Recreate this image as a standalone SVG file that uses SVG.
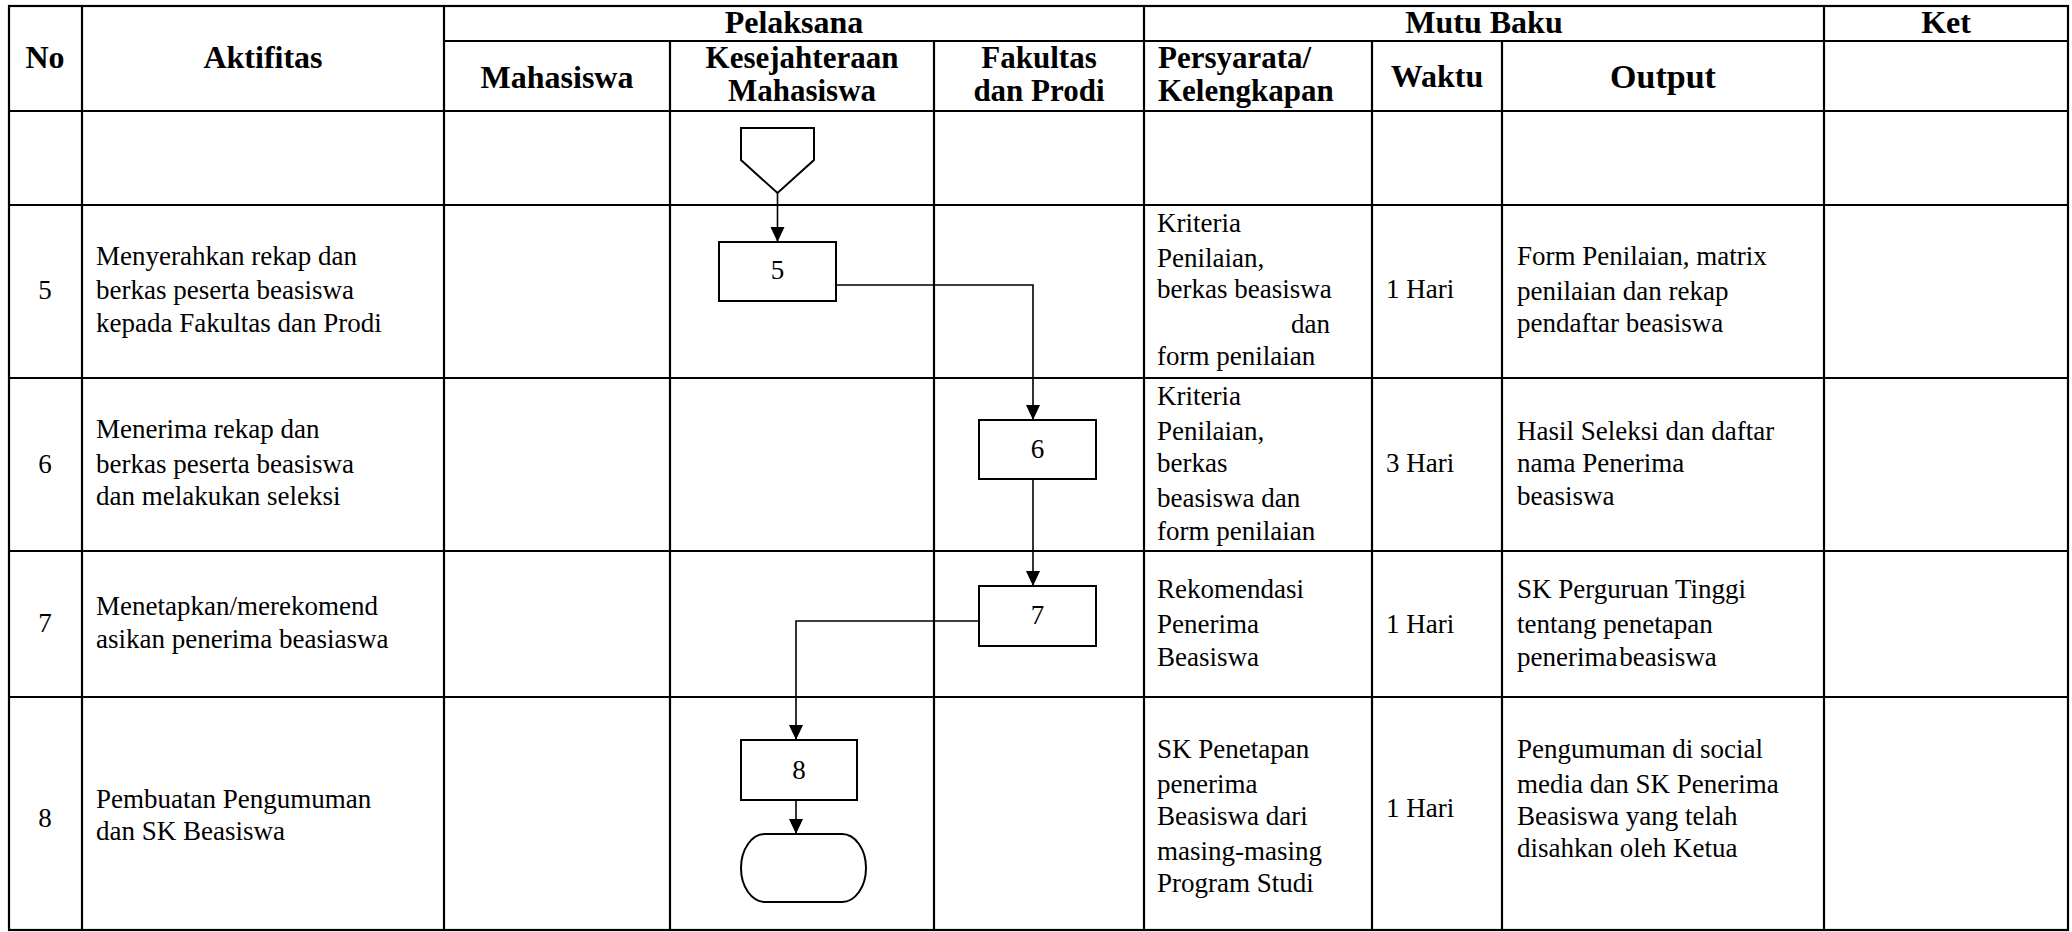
<svg xmlns="http://www.w3.org/2000/svg" width="2072" height="932" viewBox="0 0 2072 932">
<style>
.grid{stroke:#000;stroke-width:2.2;fill:none}
.shape{stroke:#000;stroke-width:2;fill:#fff}
.conn{stroke:#000;stroke-width:1.6;fill:none}
.h{font-family:"Liberation Serif",serif;font-weight:bold;font-size:32px;fill:#000}
.h2{font-family:"Liberation Serif",serif;font-weight:bold;font-size:31px;fill:#000}
.t{font-family:"Liberation Serif",serif;font-size:27px;fill:#000}
.c{text-anchor:middle}
.e{text-anchor:end}
</style>
<defs>
<marker id="arr" markerUnits="userSpaceOnUse" markerWidth="15" markerHeight="15" refX="15" refY="7" orient="auto">
<path d="M0,0 L15,7 L0,14 z" fill="#000"/>
</marker>
</defs>
<rect width="2072" height="932" fill="#fff"/>
<g id="table">
<rect class="grid" x="9" y="6" width="2059" height="924"/>
<path class="grid" d="M82 6 V930 M444 6 V930 M1144 6 V930 M1824 6 V930 M670 41 V930 M934 41 V930 M1372 41 V930 M1502 41 V930 M444 41 H2068 M9 111 H2068 M9 205 H2068 M9 378 H2068 M9 551 H2068 M9 697 H2068"/>
</g>
<g id="header">
<text class="h c" x="45" y="68">No</text>
<text class="h c" x="263" y="68">Aktifitas</text>
<text class="h c" x="794" y="33">Pelaksana</text>
<text class="h c" x="1484" y="33">Mutu Baku</text>
<text class="h c" x="1946" y="33">Ket</text>
<text class="h c" x="557" y="88">Mahasiswa</text>
<text class="h2 c" x="802" y="68">Kesejahteraan</text>
<text class="h2 c" x="802" y="101">Mahasiswa</text>
<text class="h2 c" x="1039" y="68">Fakultas</text>
<text class="h2 c" x="1039" y="101">dan Prodi</text>
<text class="h2" x="1158" y="68">Persyarata/</text>
<text class="h2" x="1158" y="101">Kelengkapan</text>
<text class="h c" x="1437" y="87">Waktu</text>
<text class="h c" x="1663" y="88" style="font-size:34px">Output</text>
</g>
<g id="row5">
<text class="t c" x="45" y="299">5</text>
<text class="t" x="96" y="265">Menyerahkan rekap dan</text>
<text class="t" x="96" y="299">berkas peserta beasiswa</text>
<text class="t" x="96" y="332">kepada Fakultas dan Prodi</text>
<text class="t" x="1157" y="232">Kriteria</text>
<text class="t" x="1157" y="267">Penilaian,</text>
<text class="t" x="1157" y="298">berkas beasiswa</text>
<text class="t e" x="1330" y="333">dan</text>
<text class="t" x="1157" y="365">form penilaian</text>
<text class="t" x="1386" y="298">1 Hari</text>
<text class="t" x="1517" y="265">Form Penilaian, matrix</text>
<text class="t" x="1517" y="300">penilaian dan rekap</text>
<text class="t" x="1517" y="332">pendaftar beasiswa</text>
</g>
<g id="row6">
<text class="t c" x="45" y="473">6</text>
<text class="t" x="96" y="438">Menerima rekap dan</text>
<text class="t" x="96" y="473">berkas peserta beasiswa</text>
<text class="t" x="96" y="505">dan melakukan seleksi</text>
<text class="t" x="1157" y="405">Kriteria</text>
<text class="t" x="1157" y="440">Penilaian,</text>
<text class="t" x="1157" y="472">berkas</text>
<text class="t" x="1157" y="507">beasiswa dan</text>
<text class="t" x="1157" y="540">form penilaian</text>
<text class="t" x="1386" y="472">3 Hari</text>
<text class="t" x="1517" y="440">Hasil Seleksi dan daftar</text>
<text class="t" x="1517" y="472">nama Penerima</text>
<text class="t" x="1517" y="505">beasiswa</text>
</g>
<g id="row7">
<text class="t c" x="45" y="632">7</text>
<text class="t" x="96" y="615">Menetapkan/merekomend</text>
<text class="t" x="96" y="648">asikan penerima beasiaswa</text>
<text class="t" x="1157" y="598">Rekomendasi</text>
<text class="t" x="1157" y="633">Penerima</text>
<text class="t" x="1157" y="666">Beasiswa</text>
<text class="t" x="1386" y="633">1 Hari</text>
<text class="t" x="1517" y="598">SK Perguruan Tinggi</text>
<text class="t" x="1517" y="633">tentang penetapan</text>
<text class="t" x="1517" y="666" word-spacing="-5">penerima beasiswa</text>
</g>
<g id="row8">
<text class="t c" x="45" y="827">8</text>
<text class="t" x="96" y="808">Pembuatan Pengumuman</text>
<text class="t" x="96" y="840">dan SK Beasiswa</text>
<text class="t" x="1157" y="758">SK Penetapan</text>
<text class="t" x="1157" y="793">penerima</text>
<text class="t" x="1157" y="825">Beasiswa dari</text>
<text class="t" x="1157" y="860">masing-masing</text>
<text class="t" x="1157" y="892">Program Studi</text>
<text class="t" x="1386" y="817">1 Hari</text>
<text class="t" x="1517" y="758">Pengumuman di social</text>
<text class="t" x="1517" y="793">media dan SK Penerima</text>
<text class="t" x="1517" y="825">Beasiswa yang telah</text>
<text class="t" x="1517" y="857">disahkan oleh Ketua</text>
</g>
<g id="connectors">
<path class="conn" d="M777.5 193 V242" marker-end="url(#arr)"/>
<path class="conn" d="M836 285 H1033 V420" marker-end="url(#arr)"/>
<path class="conn" d="M1033 479 V586" marker-end="url(#arr)"/>
<path class="conn" d="M979 621 H796 V740" marker-end="url(#arr)"/>
<path class="conn" d="M796 800 V834" marker-end="url(#arr)"/>
</g>
<g id="start">
<polygon class="shape" points="741,128 814,128 814,160 777.5,193 741,160"/>
</g>
<g id="node5">
<rect class="shape" x="719" y="242" width="117" height="59"/>
<text class="t c" x="777.5" y="279">5</text>
</g>
<g id="node6">
<rect class="shape" x="979" y="420" width="117" height="59"/>
<text class="t c" x="1037.5" y="458">6</text>
</g>
<g id="node7">
<rect class="shape" x="979" y="586" width="117" height="60"/>
<text class="t c" x="1037.5" y="624">7</text>
</g>
<g id="node8">
<rect class="shape" x="741" y="740" width="116" height="60"/>
<text class="t c" x="799" y="779">8</text>
</g>
<g id="end">
<path class="shape" d="M765 834 H842 A24 34 0 0 1 842 902 H765 A24 34 0 0 1 765 834 z"/>
</g>
</svg>
